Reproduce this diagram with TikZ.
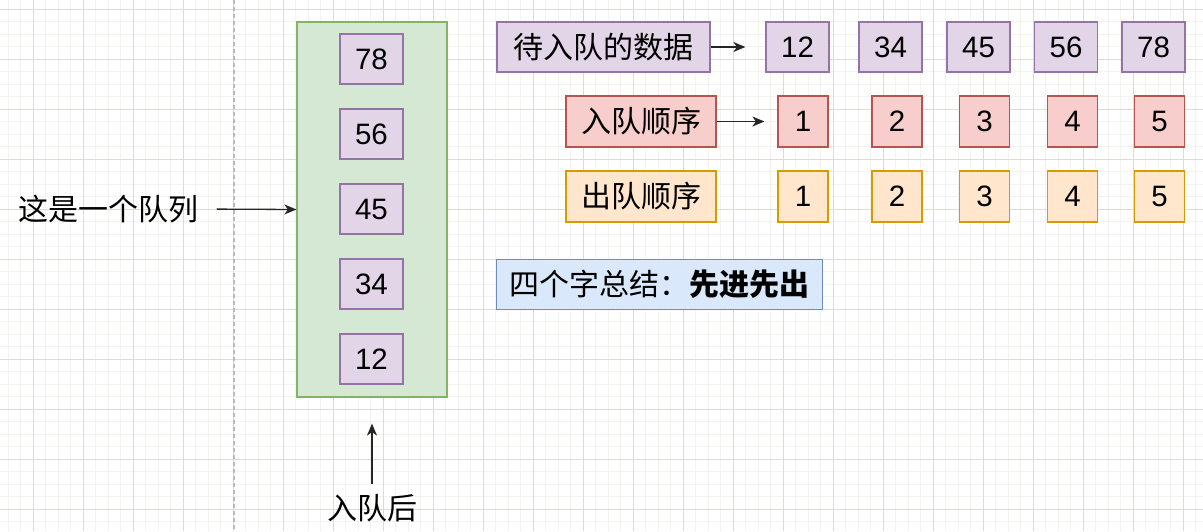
\documentclass[tikz,border=0pt]{standalone}
\usepackage{fontspec}
\setmainfont{Liberation Sans}
\newfontfamily\cjk{Noto Sans CJK SC}
\usetikzlibrary{arrows.meta}
\definecolor{purF}{HTML}{E1D5E7}\definecolor{purD}{HTML}{9673A6}
\definecolor{redF}{HTML}{F8CECC}\definecolor{redD}{HTML}{B85450}
\definecolor{oraF}{HTML}{FFE6CC}\definecolor{oraD}{HTML}{D79B00}
\definecolor{grnF}{HTML}{D5E8D4}\definecolor{grnD}{HTML}{82B366}
\definecolor{bluF}{HTML}{DAE8FC}\definecolor{bluD}{HTML}{6C8EBF}
\definecolor{gridMaj}{RGB}{221,220,212}
\definecolor{gridMin}{RGB}{244,243,239}
\definecolor{pageLine}{RGB}{185,185,185}
\begin{document}
\begin{tikzpicture}[x=1pt,y=-1pt,
  box/.style={draw, line width=1.2pt, inner sep=0pt, font=\fontsize{29.5}{34}\selectfont},
  cjkbox/.style={box, font=\fontsize{30}{34}\selectfont\cjk},
  pur/.style={box, fill=purF, draw=purD, minimum width=63, minimum height=50},
  rednum/.style={box, fill=redF, draw=redD, minimum width=50, minimum height=51},
  oranum/.style={box, fill=oraF, draw=oraD, minimum width=50, minimum height=51},
  plain/.style={inner sep=0pt, font=\fontsize{30}{34}\selectfont\cjk},
  arr/.style={-{Stealth[length=12pt,width=10pt,inset=3.5pt]}, line width=1.3pt, draw=black!85}]
\useasboundingbox (0,0) rectangle (1203,531);
\fill[white] (0,0) rectangle (1203,531);
% grid
\foreach \i in {0,...,95} {\draw[gridMin, line width=1pt] ({8.33+12.5*\i},0) -- ({8.33+12.5*\i},531);}
\foreach \j in {0,...,41} {\draw[gridMin, line width=1pt] (0,{9.3+12.5*\j}) -- (1203,{9.3+12.5*\j});}
\foreach \i in {0,...,23} {\draw[gridMaj, line width=1pt] ({33.33+50*\i},0) -- ({33.33+50*\i},531);}
\foreach \j in {0,...,10} {\draw[gridMaj, line width=1pt] (0,{9.3+50*\j}) -- (1203,{9.3+50*\j});}
% page break line
\draw[pageLine, line width=1.2pt, dash pattern=on 4pt off 3pt] (234,0) -- (234,531);

% queue container
\node[box, fill=grnF, draw=grnD, minimum width=150, minimum height=375] (green) at (372,209.5) {};
\node[pur] (q78) at (371.5,59) {78};
\node[pur] (q56) at (371.5,134) {56};
\node[pur] (q45) at (371.5,209) {45};
\node[pur] (q34) at (371.5,284) {34};
\node[pur] (q12) at (371.5,359) {12};

% left label
\node[plain] (queue) at (108.5,209) {这是一个队列};
\draw[arr, shorten <=18pt] (queue.east) -- (green.west);

% bottom label
\node[plain, minimum height=48] (after) at (372,508) {入队后};
\draw[arr, shorten >=26pt] (after.north) -- (green.south);

% data row
\node[cjkbox, fill=purF, draw=purD, minimum width=213, minimum height=50] (data) at (603.5,47) {待入队的数据};
\node[pur] (d12) at (797.5,47) {12};
\node[pur] (d34) at (890.5,47) {34};
\node[pur] (d45) at (978.5,47) {45};
\node[pur] (d56) at (1066,47) {56};
\node[pur] (d78) at (1153.5,47) {78};
\draw[arr, shorten >=20pt] (data.east) -- (d12.west);

% enqueue order
\node[cjkbox, fill=redF, draw=redD, minimum width=150, minimum height=51] (enq) at (641,121.5) {入队顺序};
\node[rednum] (e1) at (803,121.5) {1};
\node[rednum] (e2) at (897,121.5) {2};
\node[rednum] (e3) at (984.5,121.5) {3};
\node[rednum] (e4) at (1072.5,121.5) {4};
\node[rednum] (e5) at (1159.5,121.5) {5};
\draw[arr, shorten >=13pt] (enq.east) -- (e1.west);

% dequeue order
\node[cjkbox, fill=oraF, draw=oraD, minimum width=150, minimum height=51] (deq) at (641,196.5) {出队顺序};
\node[oranum] (o1) at (803,196.5) {1};
\node[oranum] (o2) at (897,196.5) {2};
\node[oranum] (o3) at (984.5,196.5) {3};
\node[oranum] (o4) at (1072.5,196.5) {4};
\node[oranum] (o5) at (1159.5,196.5) {5};

% summary
\node[cjkbox, fill=bluF, draw=bluD, minimum width=326, minimum height=50] (sum) at (659.7,284.3) {四个字总结：\textbf{先进先出}};
\end{tikzpicture}
\end{document}
